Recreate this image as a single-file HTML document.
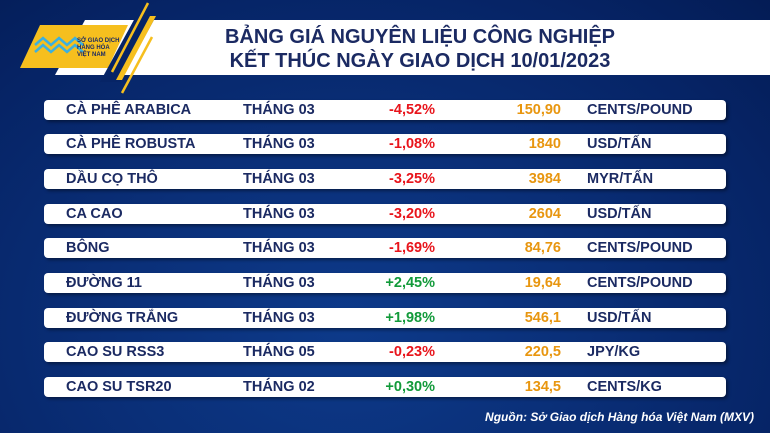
<!DOCTYPE html>
<html><head><meta charset="utf-8"><style>
body{margin:0;width:770px;height:433px;overflow:hidden;position:relative;font-family:"Liberation Sans",sans-serif;font-weight:bold;background:radial-gradient(ellipse at 45% 75%,#0d3a8a 0%,#0a2f78 40%,#062466 75%,#041c55 100%);}
.row{position:absolute;left:44px;width:682px;height:20px;background:#fff;border-radius:4px;box-shadow:2px 2px 3px rgba(0,0,0,.4);font-size:14.5px;color:#1b2a62;}
.row span{position:absolute;top:2px;white-space:nowrap}
.n{left:22px}.t{left:199px}.p{right:291px}.v{right:165px;color:#e8960f}.u{left:543px}
.red{color:#e8141b}.grn{color:#129a3a}
</style></head><body>
<svg width="770" height="100" style="position:absolute;left:0;top:0">
<polygon points="85,20 770,20 770,75 55,75" fill="#fff"/>
<polygon points="40,25 128,25 108,68 20,68" fill="#f6bf1e"/>
<polygon points="135,18 155,18 120,82 100,82" fill="#062466"/>
<line x1="148" y1="3" x2="112" y2="72" stroke="#f6bf1e" stroke-width="2.5"/>
<polygon points="150,16 156,16 122,80 116,80" fill="#f6bf1e"/>
<line x1="152" y1="37" x2="122" y2="93" stroke="#f6bf1e" stroke-width="2.5"/>
<g fill="none" stroke="#3bb0e0" stroke-width="2.5"><path d="M35,45 l8,-7 8,7 8,-7 8,7 8,-7 8,7"/><path d="M35,52 l8,-7 8,7 8,-7 8,7 8,-7 8,7"/></g>
<text x="77" y="42" font-size="6" fill="#1b2a62" font-family="Liberation Sans">SỞ GIAO DỊCH</text>
<text x="77" y="49" font-size="6" fill="#1b2a62" font-family="Liberation Sans">HÀNG HÓA</text>
<text x="77" y="56" font-size="6" fill="#1b2a62" font-family="Liberation Sans">VIỆT NAM</text>
<text x="420" y="43" font-size="20" font-weight="bold" fill="#1b2a62" text-anchor="middle" font-family="Liberation Sans">BẢNG GIÁ NGUYÊN LIỆU CÔNG NGHIỆP</text>
<text x="420" y="67" font-size="20" font-weight="bold" fill="#1b2a62" text-anchor="middle" font-family="Liberation Sans">KẾT THÚC NGÀY GIAO DỊCH 10/01/2023</text>
</svg>
<div class="row" style="top:100px"><span class="n">CÀ PHÊ ARABICA</span><span class="t">THÁNG 03</span><span class="p red">-4,52%</span><span class="v">150,90</span><span class="u">CENTS/POUND</span></div>
<div class="row" style="top:134px"><span class="n">CÀ PHÊ ROBUSTA</span><span class="t">THÁNG 03</span><span class="p red">-1,08%</span><span class="v">1840</span><span class="u">USD/TẤN</span></div>
<div class="row" style="top:169px"><span class="n">DẦU CỌ THÔ</span><span class="t">THÁNG 03</span><span class="p red">-3,25%</span><span class="v">3984</span><span class="u">MYR/TẤN</span></div>
<div class="row" style="top:204px"><span class="n">CA CAO</span><span class="t">THÁNG 03</span><span class="p red">-3,20%</span><span class="v">2604</span><span class="u">USD/TẤN</span></div>
<div class="row" style="top:238px"><span class="n">BÔNG</span><span class="t">THÁNG 03</span><span class="p red">-1,69%</span><span class="v">84,76</span><span class="u">CENTS/POUND</span></div>
<div class="row" style="top:273px"><span class="n">ĐƯỜNG 11</span><span class="t">THÁNG 03</span><span class="p grn">+2,45%</span><span class="v">19,64</span><span class="u">CENTS/POUND</span></div>
<div class="row" style="top:308px"><span class="n">ĐƯỜNG TRẮNG</span><span class="t">THÁNG 03</span><span class="p grn">+1,98%</span><span class="v">546,1</span><span class="u">USD/TẤN</span></div>
<div class="row" style="top:342px"><span class="n">CAO SU RSS3</span><span class="t">THÁNG 05</span><span class="p red">-0,23%</span><span class="v">220,5</span><span class="u">JPY/KG</span></div>
<div class="row" style="top:377px"><span class="n">CAO SU TSR20</span><span class="t">THÁNG 02</span><span class="p grn">+0,30%</span><span class="v">134,5</span><span class="u">CENTS/KG</span></div>
<div style="position:absolute;right:16px;top:410px;color:#fff;font-size:12px;font-style:italic">Nguồn: Sở Giao dịch Hàng hóa Việt Nam (MXV)</div>
</body></html>
